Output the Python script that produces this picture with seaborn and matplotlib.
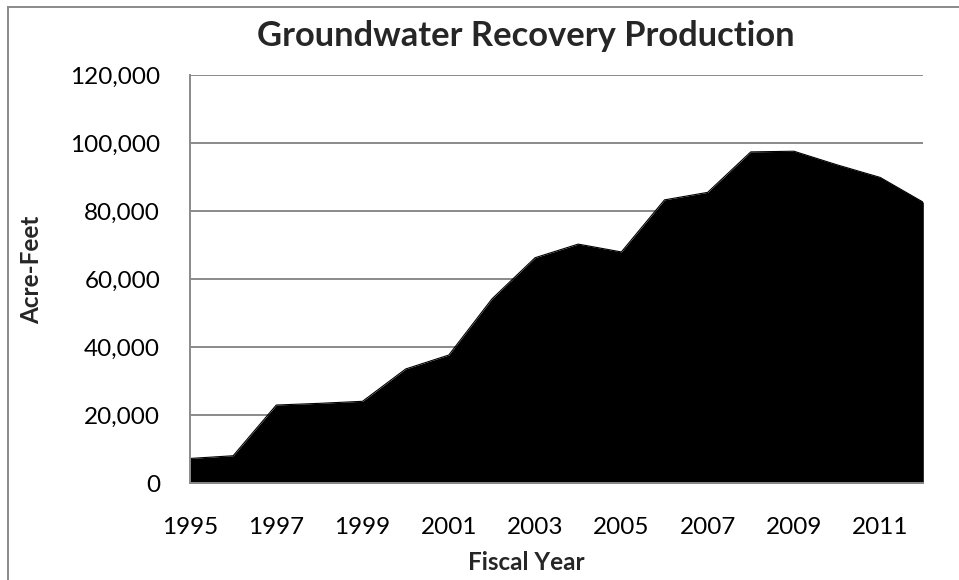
import matplotlib
matplotlib.use("Agg")
import matplotlib.pyplot as plt
import seaborn as sns
import pandas as pd
from matplotlib.patches import Rectangle

years = [1995, 1996, 1997, 1998, 1999, 2000, 2001, 2002, 2003,
         2004, 2005, 2006, 2007, 2008, 2009, 2010, 2011, 2012]
acre_feet = [7300, 8100, 23000, 23500, 24100, 33600, 37700, 54200, 66300,
             70300, 68000, 83300, 85500, 97400, 97600, 93600, 89900, 82600]
xtick_years = [1995, 1997, 1999, 2001, 2003, 2005, 2007, 2009, 2011]
ytick_values = [0, 20000, 40000, 60000, 80000, 100000, 120000]

df = pd.DataFrame({"Fiscal Year": years, "Acre-Feet": acre_feet})

sns.set_theme(style="white")
plt.rcParams['font.family'] = ['Lato', 'DejaVu Sans']

W, H = 959, 580
L, R, T, B = 190, 923.3, 75, 483.3
fig = plt.figure(figsize=(W/100, H/100), dpi=100)
ax = fig.add_axes([L/W, 1 - B/H, (R-L)/W, (B-T)/H])

grid_c = "#8a8a8a"
ax.set_axisbelow(True)
ax.yaxis.grid(True, color=grid_c, linewidth=1.4)
ax.xaxis.grid(False)

sns.lineplot(data=df, x="Fiscal Year", y="Acre-Feet", ax=ax, color="black",
             linewidth=0.8, zorder=3)
ax.fill_between(df["Fiscal Year"], df["Acre-Feet"], 0, color="black",
                linewidth=0, zorder=3)

ax.set_xlim(1995, 2012)
ax.set_ylim(0, 120000)
ax.set_xticks(xtick_years)
ax.set_xticklabels([str(y) for y in xtick_years])
ax.set_yticks(ytick_values)
ax.set_yticklabels([f"{v:,}" for v in ytick_values])
ax.tick_params(axis="both", length=0, labelsize=17.5, colors="black")
ax.tick_params(axis="y", pad=21.5)
ax.tick_params(axis="x", pad=24)

for side in ["top", "right"]:
    ax.spines[side].set_visible(False)
for side in ["left", "bottom"]:
    ax.spines[side].set_color(grid_c)
    ax.spines[side].set_linewidth(1.4)
    ax.spines[side].set_zorder(4)

ax.set_xlabel("Fiscal Year", fontsize=17.5, fontweight="bold", va="baseline")
ax.xaxis.set_label_coords((526 - L)/(R - L), (B - 570)/(B - T))
ax.set_ylabel("Acre-Feet", fontsize=17.5, fontweight="bold", va="center")
ax.yaxis.set_label_coords((32 - L)/(R - L), (B - 270)/(B - T))

fig.text(526/W, 1 - 46/H, "Groundwater Recovery Production",
         ha="center", va="baseline", fontsize=24.8, fontweight="bold")

# outer chart border
fig.patches.append(Rectangle((8/W, -0.1), 1.2, 1 - 7/H + 0.1,
                             transform=fig.transFigure, fill=False,
                             edgecolor="#8a8a8a", linewidth=1.4))

fig.savefig("out.png", dpi=100)
